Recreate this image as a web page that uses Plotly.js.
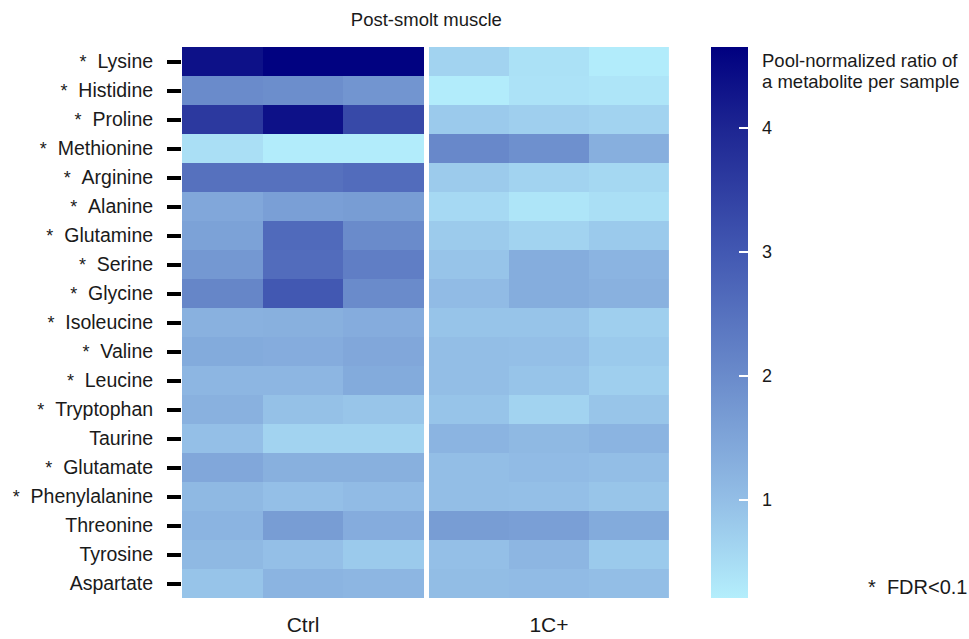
<!DOCTYPE html>
<html>
<head>
<meta charset="utf-8">
<script src="https://cdn.plot.ly/plotly-3.0.1.min.js"></script>
<style>html,body{margin:0;padding:0;background:#fff;}#chart{width:969px;height:639px;}</style>
</head>
<body>
<div id="chart"></div>
<script>
// Data
var metabolites = ["Lysine","Histidine","Proline","Methionine","Arginine","Alanine","Glutamine","Serine","Glycine","Isoleucine","Valine","Leucine","Tryptophan","Taurine","Glutamate","Phenylalanine","Threonine","Tyrosine","Aspartate"];
var fdrSignificant = [true,true,true,true,true,true,true,true,true,true,true,true,true,false,true,true,false,false,false];
var groups = ["Ctrl","1C+"];
var sampleIndex = [1,2,3];
var ctrlValues = [
  [4.35,4.62,4.62],
  [2.0,1.95,1.8],
  [3.6,4.35,3.3],
  [0.45,0.25,0.25],
  [2.5,2.5,2.6],
  [1.45,1.6,1.65],
  [1.55,2.65,2.0],
  [1.75,2.6,2.25],
  [2.1,3.0,2.0],
  [1.25,1.28,1.35],
  [1.38,1.35,1.45],
  [1.15,1.15,1.38],
  [1.25,0.95,0.88],
  [0.98,0.65,0.65],
  [1.45,1.28,1.28],
  [1.1,0.98,1.05],
  [1.2,1.65,1.35],
  [1.1,0.98,0.8],
  [0.9,1.2,1.15]
];
var onecValues = [
  [0.65,0.42,0.25],
  [0.25,0.4,0.35],
  [0.8,0.72,0.65],
  [2.05,1.9,1.3],
  [0.78,0.65,0.58],
  [0.55,0.35,0.45],
  [0.78,0.65,0.8],
  [0.9,1.33,1.2],
  [1.05,1.33,1.25],
  [0.9,0.9,0.72],
  [1.0,0.98,0.8],
  [1.0,0.9,0.72],
  [0.9,0.65,0.88],
  [1.2,1.1,1.2],
  [1.0,1.05,1.0],
  [1.0,0.98,0.88],
  [1.65,1.6,1.38],
  [0.98,1.15,0.8],
  [1.02,1.05,1.0]
];
var colorTicks = [1,2,3,4];
var cMin = 0.21, cMax = 4.65;

var yLabels = metabolites.map(function(m, i){
  return fdrSignificant[i] ? "<span style=\"font-size:18px\">*</span>\u00a0\u00a0" + m : m;
});

var cs = [
  [0.0, "#b4eefc"],
  [0.178, "#93bee6"],
  [0.403, "#6a8bcb"],
  [0.628, "#4258b2"],
  [0.854, "#1d2592"],
  [1.0, "#000080"]
];

var font = "Liberation Sans, Arial, sans-serif";

var traces = [
  {type:"heatmap", x:sampleIndex, y:yLabels, z:ctrlValues, xaxis:"x", yaxis:"y", coloraxis:"coloraxis"},
  {type:"heatmap", x:sampleIndex, y:yLabels, z:onecValues, xaxis:"x2", yaxis:"y", coloraxis:"coloraxis"}
];

var layout = {
  width:969, height:639,
  margin:{l:182, r:300, t:47, b:41},
  paper_bgcolor:"#fff", plot_bgcolor:"#fff",
  font:{family:font, color:"#1a1a1a"},
  title:{text:"Post-smolt muscle", font:{size:18.5, color:"#1a1a1a"}, x:0.44, xref:"container", y:1-20/639, yref:"container", xanchor:"center", yanchor:"middle"},
  xaxis:{domain:[0,0.497], tickvals:[2], ticktext:[groups[0]], ticks:"", showgrid:false, zeroline:false, showline:false, tickfont:{size:21}, ticklabelstandoff:12, fixedrange:true},
  xaxis2:{domain:[0.507,1], anchor:"y", tickvals:[2], ticktext:[groups[1]], ticks:"", showgrid:false, zeroline:false, showline:false, tickfont:{size:21}, ticklabelstandoff:12, fixedrange:true},
  yaxis:{autorange:"reversed", type:"category", ticks:"outside", ticklen:14, tickwidth:4, tickcolor:"#000", showgrid:false, zeroline:false, showline:false, tickfont:{size:19.5}, ticklabelstandoff:10},
  coloraxis:{
    cmin:cMin, cmax:cMax, colorscale:cs,
    colorbar:{
      x:(711-182)/487, xref:"paper", xanchor:"left", xpad:0,
      y:0.5, yanchor:"middle", len:1, lenmode:"fraction", ypad:0,
      thickness:37, outlinewidth:0,
      tickvals:colorTicks, ticktext:colorTicks.map(function(t){return "\u00a0\u00a0" + t;}),
      ticks:"inside", ticklen:9, tickwidth:2, tickcolor:"#fff",
      tickfont:{size:18, color:"#1a1a1a"}
    }
  },
  annotations:[
    {text:"Pool-normalized ratio of", xref:"paper", yref:"paper", x:(760-182)/487, y:(598-60)/551, xanchor:"left", yanchor:"middle", align:"left", showarrow:false, font:{size:18.5, color:"#1a1a1a"}},
    {text:"a metabolite per sample", xref:"paper", yref:"paper", x:(760-182)/487, y:(598-81)/551, xanchor:"left", yanchor:"middle", align:"left", showarrow:false, font:{size:18.5, color:"#1a1a1a"}},
    {text:"*\u00a0\u00a0FDR<0.1", xref:"paper", yref:"paper", x:(969-182)/487, y:(598-587)/551, xanchor:"right", yanchor:"middle", showarrow:false, font:{size:20, color:"#1a1a1a"}}
  ]
};

Plotly.newPlot("chart", traces, layout, {displayModeBar:false, staticPlot:true});
</script>
</body>
</html>
